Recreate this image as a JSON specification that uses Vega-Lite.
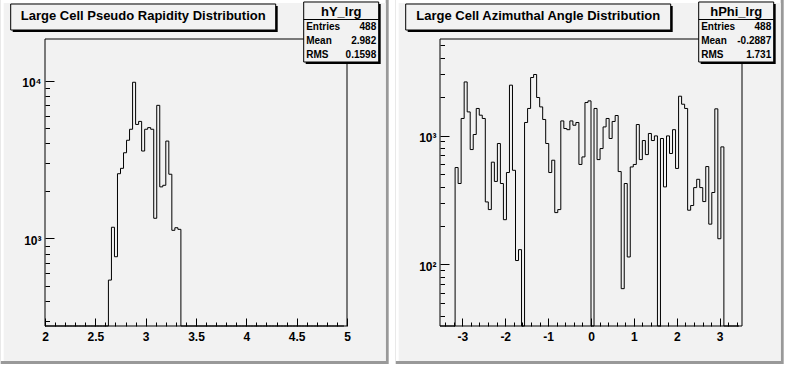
{
  "$schema": "https://vega.github.io/schema/vega-lite/v6.json",
  "background": "white",
  "padding": 0,
  "spacing": 6,
  "config": {
    "font": "Liberation Sans",
    "view": {"stroke": null},
    "axis": {"zindex": 2, "domain": false, "ticks": true, "tickColor": "black", "tickOpacity": 1, "labelColor": "black", "labelFont": "Liberation Sans", "labelFontWeight": "bold", "labelFontSize": 12, "grid": false, "title": null, "labelOverlap": false, "labelFlush": false, "tickWidth": 1}
  },
  "datasets": {
    "padL": [{"title": "Large Cell Pseudo Rapidity Distribution", "name": "hY_lrg", "statNames": "Entries\nMean\nRMS", "statValues": "488\n2.982\n0.1598"}],
    "padR": [{"title": "Large Cell Azimuthal Angle Distribution", "name": "hPhi_lrg", "statNames": "Entries\nMean\nRMS", "statValues": "488\n-0.2887\n1.731"}],
    "hY": [
      {"lo": 2.00, "count": 0}, {"lo": 2.03, "count": 0}, {"lo": 2.06, "count": 0}, {"lo": 2.09, "count": 0}, {"lo": 2.12, "count": 0},
      {"lo": 2.15, "count": 0}, {"lo": 2.18, "count": 0}, {"lo": 2.21, "count": 0}, {"lo": 2.24, "count": 0}, {"lo": 2.27, "count": 0},
      {"lo": 2.30, "count": 0}, {"lo": 2.33, "count": 0}, {"lo": 2.36, "count": 0}, {"lo": 2.39, "count": 0}, {"lo": 2.42, "count": 0},
      {"lo": 2.45, "count": 0}, {"lo": 2.48, "count": 0}, {"lo": 2.51, "count": 0}, {"lo": 2.54, "count": 0}, {"lo": 2.57, "count": 0},
      {"lo": 2.60, "count": 0}, {"lo": 2.63, "count": 543}, {"lo": 2.66, "count": 1175}, {"lo": 2.69, "count": 764}, {"lo": 2.72, "count": 2570},
      {"lo": 2.75, "count": 2780}, {"lo": 2.78, "count": 3490}, {"lo": 2.81, "count": 4190}, {"lo": 2.84, "count": 4920}, {"lo": 2.87, "count": 9780},
      {"lo": 2.90, "count": 5280}, {"lo": 2.93, "count": 5520}, {"lo": 2.96, "count": 3580}, {"lo": 2.99, "count": 4920}, {"lo": 3.02, "count": 5040},
      {"lo": 3.05, "count": 4920}, {"lo": 3.08, "count": 1340}, {"lo": 3.11, "count": 6980}, {"lo": 3.14, "count": 2120}, {"lo": 3.17, "count": 2170},
      {"lo": 3.20, "count": 4140}, {"lo": 3.23, "count": 2550}, {"lo": 3.26, "count": 1124}, {"lo": 3.29, "count": 1167}, {"lo": 3.32, "count": 1140},
      {"lo": 3.35, "count": 0}, {"lo": 3.38, "count": 0}, {"lo": 3.41, "count": 0}, {"lo": 3.44, "count": 0}, {"lo": 3.47, "count": 0},
      {"lo": 3.50, "count": 0}, {"lo": 3.53, "count": 0}, {"lo": 3.56, "count": 0}, {"lo": 3.59, "count": 0}, {"lo": 3.62, "count": 0},
      {"lo": 3.65, "count": 0}, {"lo": 3.68, "count": 0}, {"lo": 3.71, "count": 0}, {"lo": 3.74, "count": 0}, {"lo": 3.77, "count": 0},
      {"lo": 3.80, "count": 0}, {"lo": 3.83, "count": 0}, {"lo": 3.86, "count": 0}, {"lo": 3.89, "count": 0}, {"lo": 3.92, "count": 0},
      {"lo": 3.95, "count": 0}, {"lo": 3.98, "count": 0}, {"lo": 4.01, "count": 0}, {"lo": 4.04, "count": 0}, {"lo": 4.07, "count": 0},
      {"lo": 4.10, "count": 0}, {"lo": 4.13, "count": 0}, {"lo": 4.16, "count": 0}, {"lo": 4.19, "count": 0}, {"lo": 4.22, "count": 0},
      {"lo": 4.25, "count": 0}, {"lo": 4.28, "count": 0}, {"lo": 4.31, "count": 0}, {"lo": 4.34, "count": 0}, {"lo": 4.37, "count": 0},
      {"lo": 4.40, "count": 0}, {"lo": 4.43, "count": 0}, {"lo": 4.46, "count": 0}, {"lo": 4.49, "count": 0}, {"lo": 4.52, "count": 0},
      {"lo": 4.55, "count": 0}, {"lo": 4.58, "count": 0}, {"lo": 4.61, "count": 0}, {"lo": 4.64, "count": 0}, {"lo": 4.67, "count": 0},
      {"lo": 4.70, "count": 0}, {"lo": 4.73, "count": 0}, {"lo": 4.76, "count": 0}, {"lo": 4.79, "count": 0}, {"lo": 4.82, "count": 0},
      {"lo": 4.85, "count": 0}, {"lo": 4.88, "count": 0}, {"lo": 4.91, "count": 0}, {"lo": 4.94, "count": 0}, {"lo": 4.97, "count": 0}
    ],
    "hPhi": [
      {"lo": -3.52, "count": 0}, {"lo": -3.4496, "count": 0}, {"lo": -3.3792, "count": 0}, {"lo": -3.3088, "count": 0}, {"lo": -3.2384, "count": 0},
      {"lo": -3.168, "count": 564}, {"lo": -3.0976, "count": 424}, {"lo": -3.0272, "count": 1356}, {"lo": -2.9568, "count": 2606}, {"lo": -2.8864, "count": 1525},
      {"lo": -2.816, "count": 778}, {"lo": -2.7456, "count": 1018}, {"lo": -2.6752, "count": 1622}, {"lo": -2.6048, "count": 1438}, {"lo": -2.5344, "count": 1356},
      {"lo": -2.464, "count": 305}, {"lo": -2.3936, "count": 266}, {"lo": -2.3232, "count": 621}, {"lo": -2.2528, "count": 440}, {"lo": -2.1824, "count": 867},
      {"lo": -2.112, "count": 424}, {"lo": -2.0416, "count": 222}, {"lo": -1.9712, "count": 516}, {"lo": -1.9008, "count": 2460}, {"lo": -1.8304, "count": 537},
      {"lo": -1.76, "count": 107}, {"lo": -1.6896, "count": 130}, {"lo": -1.6192, "count": 0}, {"lo": -1.5488, "count": 1262}, {"lo": -1.4784, "count": 1622},
      {"lo": -1.408, "count": 2820}, {"lo": -1.3376, "count": 2977}, {"lo": -1.2672, "count": 1973}, {"lo": -1.1968, "count": 1668}, {"lo": -1.1264, "count": 1332},
      {"lo": -1.056, "count": 867}, {"lo": -0.9856, "count": 516}, {"lo": -0.9152, "count": 643}, {"lo": -0.8448, "count": 252}, {"lo": -0.7744, "count": 266},
      {"lo": -0.704, "count": 1298}, {"lo": -0.6336, "count": 1133}, {"lo": -0.5632, "count": 1110}, {"lo": -0.4928, "count": 1298}, {"lo": -0.4224, "count": 1202},
      {"lo": -0.352, "count": 1262}, {"lo": -0.2816, "count": 596}, {"lo": -0.2112, "count": 682}, {"lo": -0.1408, "count": 1803}, {"lo": -0.0704, "count": 1857},
      {"lo": 0, "count": 0}, {"lo": 0.0704, "count": 1622}, {"lo": 0.1408, "count": 650}, {"lo": 0.2112, "count": 792}, {"lo": 0.2816, "count": 1166},
      {"lo": 0.352, "count": 1356}, {"lo": 0.4224, "count": 948}, {"lo": 0.4928, "count": 1285}, {"lo": 0.5632, "count": 1430}, {"lo": 0.6336, "count": 525},
      {"lo": 0.704, "count": 64.7}, {"lo": 0.7744, "count": 424}, {"lo": 0.8448, "count": 114}, {"lo": 0.9152, "count": 570}, {"lo": 0.9856, "count": 596},
      {"lo": 1.056, "count": 1217}, {"lo": 1.1264, "count": 650}, {"lo": 1.1968, "count": 914}, {"lo": 1.2672, "count": 711}, {"lo": 1.3376, "count": 1037},
      {"lo": 1.408, "count": 914}, {"lo": 1.4784, "count": 993}, {"lo": 1.5488, "count": 0}, {"lo": 1.6192, "count": 948}, {"lo": 1.6896, "count": 399},
      {"lo": 1.76, "count": 993}, {"lo": 1.8304, "count": 725}, {"lo": 1.9008, "count": 1110}, {"lo": 1.9712, "count": 555}, {"lo": 2.0416, "count": 2019},
      {"lo": 2.112, "count": 1750}, {"lo": 2.1824, "count": 1622}, {"lo": 2.2528, "count": 263}, {"lo": 2.3232, "count": 286}, {"lo": 2.3936, "count": 394},
      {"lo": 2.464, "count": 457}, {"lo": 2.5344, "count": 394}, {"lo": 2.6048, "count": 307}, {"lo": 2.6752, "count": 574}, {"lo": 2.7456, "count": 205},
      {"lo": 2.816, "count": 361}, {"lo": 2.8864, "count": 1611}, {"lo": 2.9568, "count": 158}, {"lo": 3.0272, "count": 816}, {"lo": 3.0976, "count": 0},
      {"lo": 3.168, "count": 0}, {"lo": 3.2384, "count": 0}, {"lo": 3.3088, "count": 0}, {"lo": 3.3792, "count": 0}, {"lo": 3.4496, "count": 0}
    ]
  },
  "hconcat": [
    {
      "width": 302, "height": 287,
      "resolve": {"scale": {"x": "independent", "y": "independent"}},
      "layer": [
        {
          "data": {"name": "padL"},
          "layer": [
            {"mark": {"type": "rect", "fill": "#999999"},
             "encoding": {"x": {"datum": 0, "type": "quantitative", "scale": {"domain": [0.11418, 0.89253], "nice": false, "zero": false}, "axis": null}, "x2": {"datum": 1},
                          "y": {"datum": 0, "type": "quantitative", "scale": {"domain": [0.1044, 0.89286], "nice": false, "zero": false}, "axis": null}, "y2": {"datum": 1}}},
            {"mark": {"type": "rect", "fill": "#ffffff"},
             "encoding": {"x": {"datum": 0, "type": "quantitative", "axis": null}, "x2": {"datum": 0.99227},
                          "y": {"datum": 0.00824, "type": "quantitative", "axis": null}, "y2": {"datum": 1}}},
            {"mark": {"type": "rect", "fill": "#f2f2f2"},
             "encoding": {"x": {"datum": 0.00773, "type": "quantitative", "axis": null}, "x2": {"datum": 0.99227},
                          "y": {"datum": 0.00824, "type": "quantitative", "axis": null}, "y2": {"datum": 0.99176}}},
            {"mark": {"type": "rect", "fill": null, "stroke": "black", "strokeWidth": 1},
             "encoding": {"x": {"datum": 0.11418, "type": "quantitative", "axis": null}, "x2": {"datum": 0.89253},
                          "y": {"datum": 0.1044, "type": "quantitative", "axis": null}, "y2": {"datum": 0.89286}}},
            {"mark": {"type": "rect", "fill": "black"},
             "encoding": {"x": {"datum": 0.03093, "type": "quantitative", "axis": null}, "x2": {"datum": 0.71392},
                          "y": {"datum": 0.91209, "type": "quantitative", "axis": null}, "y2": {"datum": 0.98352}}},
            {"mark": {"type": "rect", "fill": "#f2f2f2", "stroke": "black", "strokeWidth": 1},
             "encoding": {"x": {"datum": 0.02577, "type": "quantitative", "axis": null}, "x2": {"datum": 0.70876},
                          "y": {"datum": 0.91758, "type": "quantitative", "axis": null}, "y2": {"datum": 0.98901}}},
            {"mark": {"type": "text", "font": "Liberation Sans", "fontWeight": "bold", "fontSize": 13, "align": "center", "baseline": "alphabetic", "color": "black"},
             "encoding": {"x": {"datum": 0.36727, "type": "quantitative", "axis": null}, "y": {"datum": 0.94505, "type": "quantitative", "axis": null}, "text": {"field": "title"}}},
            {"mark": {"type": "rect", "fill": "black"},
             "encoding": {"x": {"datum": 0.78608, "type": "quantitative", "axis": null}, "x2": {"datum": 0.97938},
                          "y": {"datum": 0.82418, "type": "quantitative", "axis": null}, "y2": {"datum": 0.98901}}},
            {"mark": {"type": "rect", "fill": "#f2f2f2", "stroke": "black", "strokeWidth": 1},
             "encoding": {"x": {"datum": 0.78093, "type": "quantitative", "axis": null}, "x2": {"datum": 0.97423},
                          "y": {"datum": 0.82967, "type": "quantitative", "axis": null}, "y2": {"datum": 0.99451}}},
            {"mark": {"type": "rule", "color": "black", "strokeWidth": 1},
             "encoding": {"x": {"datum": 0.78093, "type": "quantitative", "axis": null}, "x2": {"datum": 0.97423},
                          "y": {"datum": 0.94643, "type": "quantitative", "axis": null}}},
            {"mark": {"type": "text", "font": "Liberation Sans", "fontWeight": "bold", "fontSize": 13, "align": "center", "baseline": "alphabetic", "color": "black"},
             "encoding": {"x": {"datum": 0.87758, "type": "quantitative", "axis": null}, "y": {"datum": 0.95604, "type": "quantitative", "axis": null}, "text": {"field": "name"}}},
            {"mark": {"type": "text", "font": "Liberation Sans", "fontWeight": "bold", "fontSize": 10, "align": "left", "baseline": "alphabetic", "lineBreak": "\n", "lineHeight": 14, "color": "black"},
             "encoding": {"x": {"datum": 0.78737, "type": "quantitative", "axis": null}, "y": {"datum": 0.91758, "type": "quantitative", "axis": null}, "text": {"field": "statNames"}}},
            {"mark": {"type": "text", "font": "Liberation Sans", "fontWeight": "bold", "fontSize": 10, "align": "right", "baseline": "alphabetic", "lineBreak": "\n", "lineHeight": 14, "color": "black"},
             "encoding": {"x": {"datum": 0.96778, "type": "quantitative", "axis": null}, "y": {"datum": 0.91758, "type": "quantitative", "axis": null}, "text": {"field": "statValues"}}}
          ]
        },
        {
          "data": {"name": "hY"},
          "resolve": {"axis": {"x": "independent", "y": "independent"}},
          "layer": [
            {
              "mark": {"type": "line", "interpolate": "step-after", "color": "black", "strokeWidth": 1, "opacity": 0},
              "encoding": {
                "x": {"field": "lo", "type": "quantitative", "scale": {"domain": [2, 5], "nice": false, "zero": false},
                      "axis": {"zindex": 2, "orient": "bottom", "offset": -4, "values": [2.1,2.2,2.3,2.4,2.6,2.7,2.8,2.9,3.1,3.2,3.3,3.4,3.6,3.7,3.8,3.9,4.1,4.2,4.3,4.4,4.6,4.7,4.8,4.9],
                               "tickSize": 4, "labels": false, "domain": false}},
                "y": {"field": "count", "type": "quantitative", "scale": {"type": "log", "domain": [277.6, 18400], "nice": false, "clamp": true},
                      "axis": {"zindex": 2, "orient": "left", "offset": -4.5, "values": [300,400,500,600,700,800,900,2000,3000,4000,5000,6000,7000,8000,9000],
                               "tickSize": 4.5, "labels": false, "domain": false}}
              }
            },
            {
              "mark": {"type": "line", "interpolate": "step-after", "color": "black", "strokeWidth": 1},
              "encoding": {
                "x": {"field": "lo", "type": "quantitative", "scale": {"domain": [2, 5], "nice": false, "zero": false},
                      "axis": {"zindex": 2, "orient": "bottom", "offset": -8, "values": [2, 2.5, 3, 3.5, 4, 4.5, 5], "tickSize": 8,
                               "labelExpr": "''+datum.value", "labelPadding": 5, "domain": false}},
                "y": {"field": "count", "type": "quantitative", "scale": {"type": "log", "domain": [277.6, 18400], "nice": false, "clamp": true},
                      "axis": {"zindex": 2, "orient": "left", "offset": -9, "values": [1000, 10000], "tickSize": 9,
                               "labelExpr": "datum.value==1000 ? '10³' : '10⁴'",
                               "labelPadding": 4, "labelOffset": 2, "domain": false}}
              }
            }
          ]
        }
      ]
    },
    {
      "width": 302, "height": 287,
      "resolve": {"scale": {"x": "independent", "y": "independent"}},
      "layer": [
        {
          "data": {"name": "padR"},
          "layer": [
            {"mark": {"type": "rect", "fill": "#999999"},
             "encoding": {"x": {"datum": 0, "type": "quantitative", "scale": {"domain": [0.11418, 0.89253], "nice": false, "zero": false}, "axis": null}, "x2": {"datum": 1},
                          "y": {"datum": 0, "type": "quantitative", "scale": {"domain": [0.1044, 0.89286], "nice": false, "zero": false}, "axis": null}, "y2": {"datum": 1}}},
            {"mark": {"type": "rect", "fill": "#ffffff"},
             "encoding": {"x": {"datum": 0, "type": "quantitative", "axis": null}, "x2": {"datum": 0.99227},
                          "y": {"datum": 0.00824, "type": "quantitative", "axis": null}, "y2": {"datum": 1}}},
            {"mark": {"type": "rect", "fill": "#f2f2f2"},
             "encoding": {"x": {"datum": 0.00773, "type": "quantitative", "axis": null}, "x2": {"datum": 0.99227},
                          "y": {"datum": 0.00824, "type": "quantitative", "axis": null}, "y2": {"datum": 0.99176}}},
            {"mark": {"type": "rect", "fill": null, "stroke": "black", "strokeWidth": 1},
             "encoding": {"x": {"datum": 0.11418, "type": "quantitative", "axis": null}, "x2": {"datum": 0.89253},
                          "y": {"datum": 0.1044, "type": "quantitative", "axis": null}, "y2": {"datum": 0.89286}}},
            {"mark": {"type": "rect", "fill": "black"},
             "encoding": {"x": {"datum": 0.03093, "type": "quantitative", "axis": null}, "x2": {"datum": 0.71392},
                          "y": {"datum": 0.91209, "type": "quantitative", "axis": null}, "y2": {"datum": 0.98352}}},
            {"mark": {"type": "rect", "fill": "#f2f2f2", "stroke": "black", "strokeWidth": 1},
             "encoding": {"x": {"datum": 0.02577, "type": "quantitative", "axis": null}, "x2": {"datum": 0.70876},
                          "y": {"datum": 0.91758, "type": "quantitative", "axis": null}, "y2": {"datum": 0.98901}}},
            {"mark": {"type": "text", "font": "Liberation Sans", "fontWeight": "bold", "fontSize": 13, "align": "center", "baseline": "alphabetic", "color": "black"},
             "encoding": {"x": {"datum": 0.36727, "type": "quantitative", "axis": null}, "y": {"datum": 0.94505, "type": "quantitative", "axis": null}, "text": {"field": "title"}}},
            {"mark": {"type": "rect", "fill": "black"},
             "encoding": {"x": {"datum": 0.78608, "type": "quantitative", "axis": null}, "x2": {"datum": 0.97938},
                          "y": {"datum": 0.82418, "type": "quantitative", "axis": null}, "y2": {"datum": 0.98901}}},
            {"mark": {"type": "rect", "fill": "#f2f2f2", "stroke": "black", "strokeWidth": 1},
             "encoding": {"x": {"datum": 0.78093, "type": "quantitative", "axis": null}, "x2": {"datum": 0.97423},
                          "y": {"datum": 0.82967, "type": "quantitative", "axis": null}, "y2": {"datum": 0.99451}}},
            {"mark": {"type": "rule", "color": "black", "strokeWidth": 1},
             "encoding": {"x": {"datum": 0.78093, "type": "quantitative", "axis": null}, "x2": {"datum": 0.97423},
                          "y": {"datum": 0.94643, "type": "quantitative", "axis": null}}},
            {"mark": {"type": "text", "font": "Liberation Sans", "fontWeight": "bold", "fontSize": 13, "align": "center", "baseline": "alphabetic", "color": "black"},
             "encoding": {"x": {"datum": 0.87758, "type": "quantitative", "axis": null}, "y": {"datum": 0.95604, "type": "quantitative", "axis": null}, "text": {"field": "name"}}},
            {"mark": {"type": "text", "font": "Liberation Sans", "fontWeight": "bold", "fontSize": 10, "align": "left", "baseline": "alphabetic", "lineBreak": "\n", "lineHeight": 14, "color": "black"},
             "encoding": {"x": {"datum": 0.78737, "type": "quantitative", "axis": null}, "y": {"datum": 0.91758, "type": "quantitative", "axis": null}, "text": {"field": "statNames"}}},
            {"mark": {"type": "text", "font": "Liberation Sans", "fontWeight": "bold", "fontSize": 10, "align": "right", "baseline": "alphabetic", "lineBreak": "\n", "lineHeight": 14, "color": "black"},
             "encoding": {"x": {"datum": 0.96778, "type": "quantitative", "axis": null}, "y": {"datum": 0.91758, "type": "quantitative", "axis": null}, "text": {"field": "statValues"}}}
          ]
        },
        {
          "data": {"name": "hPhi"},
          "resolve": {"axis": {"x": "independent", "y": "independent"}},
          "layer": [
            {
              "mark": {"type": "line", "interpolate": "step-after", "color": "black", "strokeWidth": 1, "opacity": 0},
              "encoding": {
                "x": {"field": "lo", "type": "quantitative", "scale": {"domain": [-3.52, 3.52], "nice": false, "zero": false},
                      "axis": {"zindex": 2, "orient": "bottom", "offset": -4, "values": [-3.4,-3.2,-2.8,-2.6,-2.4,-2.2,-1.8,-1.6,-1.4,-1.2,-0.8,-0.6,-0.4,-0.2,0.2,0.4,0.6,0.8,1.2,1.4,1.6,1.8,2.2,2.4,2.6,2.8,3.2,3.4],
                               "tickSize": 4, "labels": false, "domain": false}},
                "y": {"field": "count", "type": "quantitative", "scale": {"type": "log", "domain": [33.19, 5614.6], "nice": false, "clamp": true},
                      "axis": {"zindex": 2, "orient": "left", "offset": -4.5, "values": [40,50,60,70,80,90,200,300,400,500,600,700,800,900,2000,3000,4000,5000],
                               "tickSize": 4.5, "labels": false, "domain": false}}
              }
            },
            {
              "mark": {"type": "line", "interpolate": "step-after", "color": "black", "strokeWidth": 1},
              "encoding": {
                "x": {"field": "lo", "type": "quantitative", "scale": {"domain": [-3.52, 3.52], "nice": false, "zero": false},
                      "axis": {"zindex": 2, "orient": "bottom", "offset": -8, "values": [-3, -2, -1, 0, 1, 2, 3], "tickSize": 8,
                               "labelExpr": "''+datum.value", "labelPadding": 5, "domain": false}},
                "y": {"field": "count", "type": "quantitative", "scale": {"type": "log", "domain": [33.19, 5614.6], "nice": false, "clamp": true},
                      "axis": {"zindex": 2, "orient": "left", "offset": -9, "values": [100, 1000], "tickSize": 9,
                               "labelExpr": "datum.value==100 ? '10²' : '10³'",
                               "labelPadding": 4, "labelOffset": 2, "domain": false}}
              }
            }
          ]
        }
      ]
    }
  ]
}
